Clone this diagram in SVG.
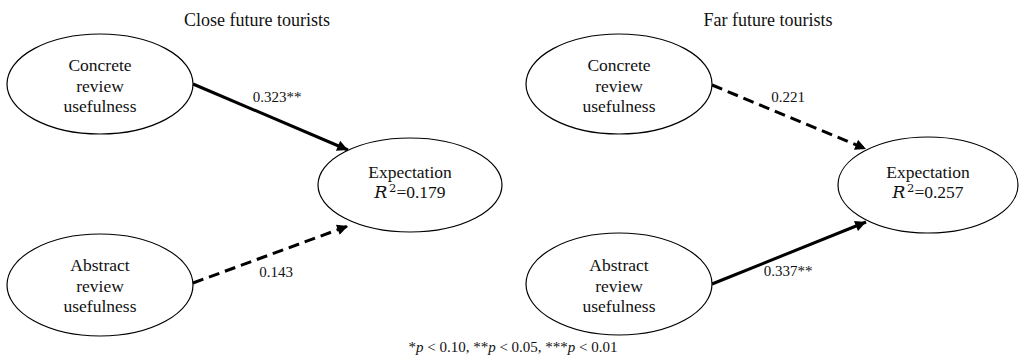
<svg xmlns="http://www.w3.org/2000/svg" width="1019" height="357" viewBox="0 0 1019 357">
<defs>
<marker id="ah" viewBox="0 0 10 10" refX="10" refY="5" markerWidth="4.2" markerHeight="3.6" orient="auto" markerUnits="strokeWidth">
<path d="M0,0 L10,5 L0,10 z" fill="#000"/>
</marker>
<style>
.node ellipse{fill:#fff;stroke:#000;stroke-width:1.2}
text{font-family:"Liberation Serif","Times New Roman",serif;fill:#111;text-anchor:middle}
.nt{font-size:17.5px}
.ttl{font-size:18px}
.lbl{font-size:15px}
.solid{stroke:#000;stroke-width:3;fill:none}
.dash{stroke:#000;stroke-width:3;fill:none;stroke-dasharray:11,6}
.math{font-family:"DejaVu Serif","Liberation Serif",serif}
</style>
</defs>
<rect width="1019" height="357" fill="#fff"/>
<text class="ttl" x="257" y="26">Close future tourists</text>
<text class="ttl" x="768" y="26">Far future tourists</text>

<g id="connectors">
<line class="solid" x1="193" y1="84" x2="348" y2="150" marker-end="url(#ah)"/>
<line class="dash" x1="193" y1="283" x2="348" y2="226" marker-end="url(#ah)"/>
<line class="dash" x1="712" y1="85" x2="866" y2="149" marker-end="url(#ah)"/>
<line class="solid" x1="712" y1="284" x2="866" y2="222" marker-end="url(#ah)"/>
<text class="lbl" x="277" y="102">0.323**</text>
<text class="lbl" x="276" y="277">0.143</text>
<text class="lbl" x="788" y="102">0.221</text>
<text class="lbl" x="788" y="276">0.337**</text>
</g>

<g id="left-concrete" class="node">
<ellipse cx="100" cy="84" rx="93" ry="50"/>
<text class="nt" x="100" y="71">Concrete</text>
<text class="nt" x="100" y="92">review</text>
<text class="nt" x="100" y="112">usefulness</text>
</g>
<g id="left-abstract" class="node">
<ellipse cx="100" cy="285" rx="93" ry="51"/>
<text class="nt" x="100" y="271">Abstract</text>
<text class="nt" x="100" y="292">review</text>
<text class="nt" x="100" y="312">usefulness</text>
</g>
<g id="left-expectation" class="node">
<ellipse cx="410" cy="185" rx="92" ry="47"/>
<text class="nt" x="410" y="178">Expectation</text>
<text class="nt" x="410" y="198"><tspan font-style="italic" class="math">R</tspan><tspan class="math" font-size="11.5" dx="1.5" dy="-6">2</tspan><tspan dy="6">=0.179</tspan></text>
</g>
<g id="right-concrete" class="node">
<ellipse cx="619" cy="84" rx="93" ry="50"/>
<text class="nt" x="619" y="71">Concrete</text>
<text class="nt" x="619" y="92">review</text>
<text class="nt" x="619" y="112">usefulness</text>
</g>
<g id="right-abstract" class="node">
<ellipse cx="619" cy="284" rx="93" ry="51"/>
<text class="nt" x="619" y="271">Abstract</text>
<text class="nt" x="619" y="292">review</text>
<text class="nt" x="619" y="312">usefulness</text>
</g>
<g id="right-expectation" class="node">
<ellipse cx="928" cy="185" rx="90" ry="48"/>
<text class="nt" x="928" y="178">Expectation</text>
<text class="nt" x="928" y="198"><tspan font-style="italic" class="math">R</tspan><tspan class="math" font-size="11.5" dx="1.5" dy="-6">2</tspan><tspan dy="6">=0.257</tspan></text>
</g>

<text class="lbl" x="513" y="352">*<tspan font-style="italic">p</tspan> &lt; 0.10, **<tspan font-style="italic">p</tspan> &lt; 0.05, ***<tspan font-style="italic">p</tspan> &lt; 0.01</text>
</svg>
